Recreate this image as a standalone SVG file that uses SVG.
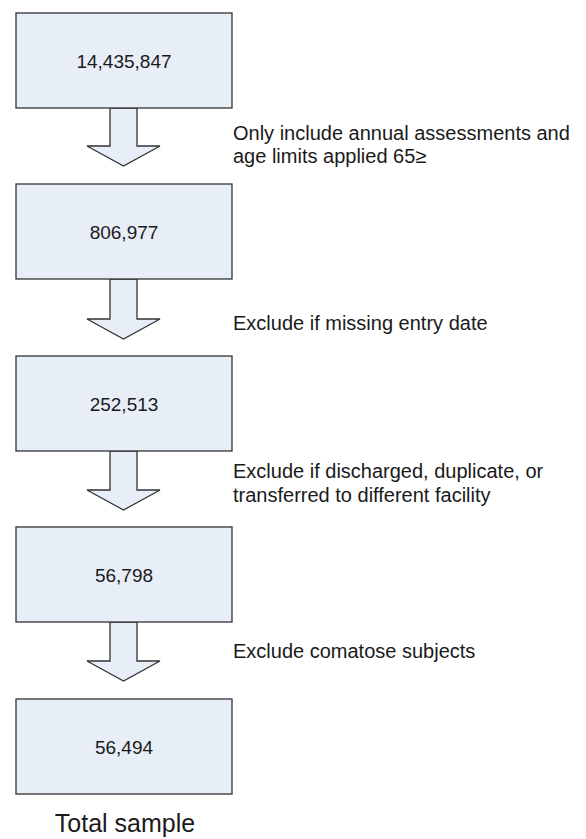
<svg xmlns="http://www.w3.org/2000/svg" width="586" height="839" viewBox="0 0 586 839">
<style>
.box{fill:#E8EEF8;stroke:#333;stroke-width:1.3}
.arr{fill:#E8EEF8;stroke:#333;stroke-width:1.3;stroke-linejoin:miter}
.num{font-family:"Liberation Sans",Arial,sans-serif;font-size:19px;fill:#1a1a1a;text-anchor:middle}
.note{font-family:"Liberation Sans",Arial,sans-serif;font-size:20px;fill:#1a1a1a}
.total{font-family:"Liberation Sans",Arial,sans-serif;font-size:25px;fill:#1a1a1a;text-anchor:middle}
</style>
<rect width="586" height="839" fill="#fff"/>
<g id="connectors">
<path class="arr" d="M110,108 V146 H87 L123.5,166 L160,146 H137 V108 Z"/>
<path class="arr" d="M110,279 V319 H87 L123.5,339 L160,319 H137 V279 Z"/>
<path class="arr" d="M110,451 V490 H87 L123.5,510 L160,490 H137 V451 Z"/>
<path class="arr" d="M110,622 V661 H87 L123.5,681 L160,661 H137 V622 Z"/>
</g>
<g id="n1"><rect class="box" x="16" y="13" width="216" height="95"/><text class="num" x="124" y="67.5">14,435,847</text></g>
<g id="n2"><rect class="box" x="16" y="184" width="216" height="95"/><text class="num" x="124" y="238.5">806,977</text></g>
<g id="n3"><rect class="box" x="16" y="356" width="216" height="95"/><text class="num" x="124" y="410.5">252,513</text></g>
<g id="n4"><rect class="box" x="16" y="527" width="216" height="95"/><text class="num" x="124" y="581.5">56,798</text></g>
<g id="n5"><rect class="box" x="16" y="699" width="216" height="95"/><text class="num" x="124" y="753.5">56,494</text></g>
<g id="labels">
<text class="note" x="233" y="140">Only include annual assessments and</text>
<text class="note" x="233" y="163">age limits applied 65≥</text>
<text class="note" x="233" y="330">Exclude if missing entry date</text>
<text class="note" x="233" y="478">Exclude if discharged, duplicate, or</text>
<text class="note" x="233" y="502">transferred to different facility</text>
<text class="note" x="233" y="658">Exclude comatose subjects</text>
<text class="total" x="125" y="832">Total sample</text>
</g>
</svg>
